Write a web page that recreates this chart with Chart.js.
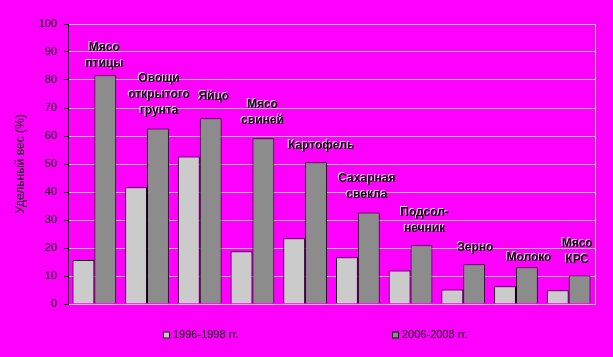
<!DOCTYPE html>
<html>
<head>
<meta charset="utf-8">
<script src="https://cdn.jsdelivr.net/npm/chart.js@4/dist/chart.umd.min.js"></script>
<style>
html,body{margin:0;padding:0;background:#ff00ff;}
canvas{display:block;}
</style>
</head>
<body>
<canvas id="c" width="613" height="357"></canvas>
<script>
// ---- data ----
const categories = ['Мясо птицы','Овощи открытого грунта','Яйцо','Мясо свиней','Картофель','Сахарная свекла','Подсолнечник','Зерно','Молоко','Мясо КРС'];
const labelLines = [['Мясо','птицы'],['Овощи','открытого','грунта'],['Яйцо'],['Мясо','свиней'],['Картофель'],['Сахарная','свекла'],['Подсол-','нечник'],['Зерно'],['Молоко'],['Мясо','КРС']];
const seriesNames = ['1996-1998 гг.','2006-2008 гг.'];
const values1996 = [15.7, 41.7, 52.7, 18.8, 23.5, 16.7, 12.0, 5.2, 6.3, 4.9];
const values2006 = [81.7, 62.7, 66.3, 59.2, 50.6, 32.7, 21.0, 14.2, 13.1, 10.2];
const yTicks = [0,10,20,30,40,50,60,70,80,90,100];
const yTitle = 'Удельный вес (%)';

// ---- label placement (layout, not data) ----
const labelAnchorY = [86, 69, 74, 65.5, 56.4, 39, 27, 20.1, 16.7, 16];
const labelShiftX = [10, 12, 14, 10, 16, 9, 14, 12, 13, 8.5];

const FONT = "'Liberation Sans', Arial, sans-serif";

const barLabels = {
  id: 'barLabels',
  afterDatasetsDraw(chart) {
    const {ctx, scales:{x, y}} = chart;
    ctx.save();
    ctx.font = 'bold 12px ' + FONT;
    ctx.textAlign = 'center';
    ctx.textBaseline = 'middle';
    labelLines.forEach((lines, i) => {
      const cx = x.getPixelForValue(i) + labelShiftX[i];
      const by = y.getPixelForValue(labelAnchorY[i]);
      const n = lines.length;
      lines.forEach((t, k) => {
        const ly = by - (n - 1 - k) * 16;
        ctx.fillStyle = 'rgba(255,255,255,0.8)';
        ctx.fillText(t, cx - 1, ly - 1);
        ctx.fillStyle = '#000';
        ctx.fillText(t, cx, ly);
      });
    });
    ctx.restore();
  }
};

const frame = {
  id: 'frame',
  beforeDatasetsDraw(chart) {
    const {ctx, chartArea:a} = chart;
    ctx.save();
    ctx.strokeStyle = '#c0c0c0';
    ctx.lineWidth = 1;
    ctx.beginPath();
    ctx.moveTo(Math.round(a.right) + 0.5, a.top);
    ctx.lineTo(Math.round(a.right) + 0.5, a.bottom);
    ctx.stroke();
    ctx.restore();
  }
};

const customLegend = {
  id: 'customLegend',
  afterDraw(chart) {
    const {ctx} = chart;
    const boxX = [163, 392];
    const cy = 335;
    ctx.save();
    ctx.font = '11px ' + FONT;
    ctx.textBaseline = 'middle';
    ctx.textAlign = 'left';
    chart.data.datasets.forEach((ds, i) => {
      ctx.fillStyle = ds.backgroundColor;
      ctx.fillRect(boxX[i], cy - 3.5, 7, 7);
      ctx.strokeStyle = '#000';
      ctx.lineWidth = 1;
      ctx.strokeRect(boxX[i] + 0.5, cy - 3.5 + 0.5, 6, 6);
      ctx.fillStyle = '#000';
      ctx.fillText(ds.label, boxX[i] + 10, cy);
    });
    ctx.restore();
  }
};

new Chart(document.getElementById('c'), {
  type: 'bar',
  data: {
    labels: categories,
    datasets: [
      {label: seriesNames[0], data: values1996, backgroundColor: '#cbcbcb', borderColor: '#000', borderWidth: 1},
      {label: seriesNames[1], data: values2006, backgroundColor: '#8c8c8c', borderColor: '#000', borderWidth: 1}
    ]
  },
  options: {
    responsive: false,
    animation: false,
    events: [],
    layout: {padding: {left: 0, right: 18, top: 24, bottom: 53}},
    datasets: {bar: {categoryPercentage: 0.83, barPercentage: 1.0}},
    plugins: {legend: {display: false}, tooltip: {enabled: false}},
    scales: {
      x: {
        display: true,
        grid: {display: false, drawTicks: false},
        ticks: {display: false},
        border: {display: true, color: '#c0c0c0', width: 1}
      },
      y: {
        min: 0, max: 100,
        afterBuildTicks(scale) { scale.ticks = yTicks.map(v => ({value: v})); },
        afterFit(scale) { scale.width = 68; },
        ticks: {color: '#000', font: {family: FONT, size: 11}, padding: 7},
        grid: {color: '#c0c0c0', tickColor: '#000', tickLength: 4, lineWidth: 1},
        border: {display: true, color: '#000', width: 1},
        title: {display: true, text: yTitle, color: '#000', font: {family: FONT, size: 12}, padding: {top: 13, bottom: 0}}
      }
    }
  },
  plugins: [frame, barLabels, customLegend]
});
</script>
</body>
</html>
